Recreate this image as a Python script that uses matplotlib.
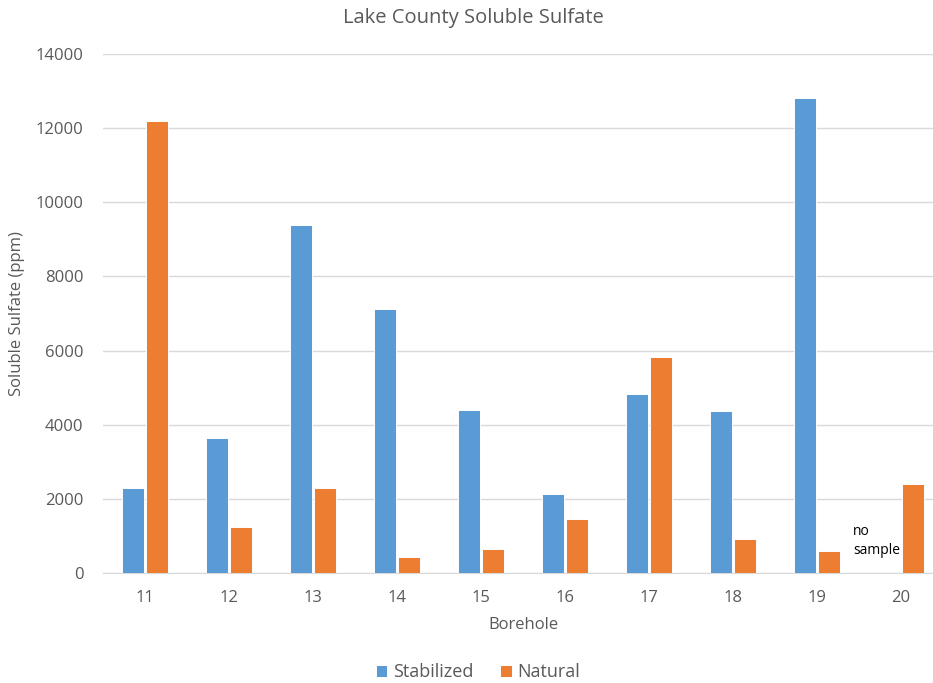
import matplotlib
matplotlib.use("Agg")
import matplotlib.pyplot as plt
import numpy as np

boreholes = ["11", "12", "13", "14", "15", "16", "17", "18", "19", "20"]
stabilized = [2300, 3630, 9400, 7120, 4400, 2130, 4820, 4380, 12820, np.nan]
natural = [12200, 1240, 2300, 440, 640, 1450, 5820, 930, 600, 2410]
yticks = [0, 2000, 4000, 6000, 8000, 10000, 12000, 14000]

plt.rcParams['font.family'] = ['Open Sans', 'DejaVu Sans']
txt = '#595959'

fig = plt.figure(figsize=(9.33, 6.83), dpi=100)
# plot area from x=103 to x=943 px, y from 54 to 573 px
ax = fig.add_axes([103 / 933, 1 - 573 / 683, 840 / 933, (573 - 54) / 683])

x = np.arange(len(boreholes))
w = 0.255
ax.bar(x - 0.141, stabilized, width=w, color='#5B9BD5', edgecolor='white', linewidth=0.7, label='Stabilized', zorder=3)
ax.bar(x + 0.141, natural, width=w, color='#ED7D31', edgecolor='white', linewidth=0.7, label='Natural', zorder=3)

ax.set_xlim(-0.5, len(boreholes) - 0.5)
ax.set_ylim(0, 14000)
ax.set_yticks(yticks)
ax.set_yticklabels([str(v) for v in yticks])
ax.set_xticks(x)
ax.set_xticklabels(boreholes)
ax.tick_params(axis='both', length=0, labelsize=12, colors=txt)
ax.tick_params(axis='y', pad=14)
ax.tick_params(axis='x', pad=12)
ax.grid(axis='y', color='#D9D9D9', linewidth=1, zorder=0)
for s in ['top', 'right', 'left']:
    ax.spines[s].set_visible(False)
ax.spines['bottom'].set_color('#D9D9D9')

ax.set_xlabel('Borehole', fontsize=12, color=txt, labelpad=8)
ax.yaxis.set_label_coords(-(103 - 17) / 840, 0.5)
ax.set_ylabel('Soluble Sulfate (ppm)', fontsize=12, color=txt, va='center')
fig.text(473 / 933, 1 - 18 / 683, 'Lake County Soluble Sulfate', fontsize=14.5, color=txt, ha='center', va='center')

ax.text(9 - 0.574, 860, 'no\nsample', fontsize=10, color='black', ha='left', va='center', linespacing=1.35)

fig.legend(loc='center', bbox_to_anchor=(478 / 933, 1 - 672 / 683), ncol=2, frameon=False,
           fontsize=13, labelcolor=txt, handlelength=0.65, handleheight=0.65,
           handletextpad=0.3, columnspacing=1.5)

fig.savefig('out.png', dpi=100)
